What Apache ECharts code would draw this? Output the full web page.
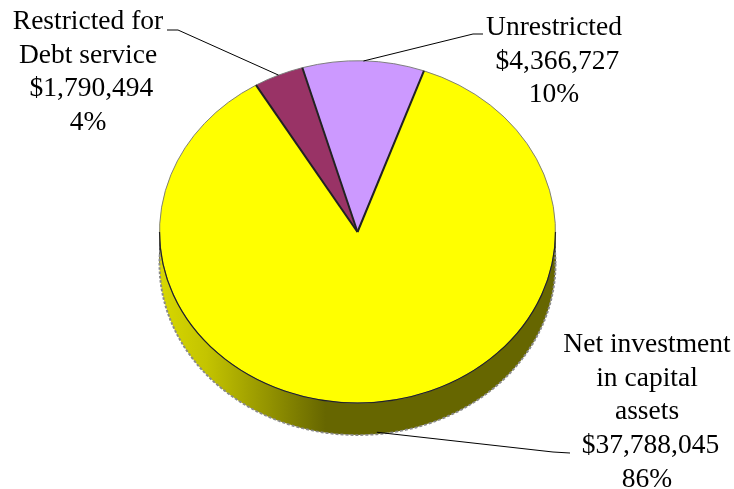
<!DOCTYPE html>
<html>
<head>
<meta charset="utf-8">
<style>
  html, body { margin: 0; padding: 0; background: #fff; }
  #chart { width: 734px; height: 489px; }
</style>
<script src="https://cdn.jsdelivr.net/npm/echarts@6/dist/echarts.min.js"></script>
</head>
<body>
<div id="chart"></div>
<script>
// clockwise from the first slice
const categories = ['Net investment\nin capital\nassets', 'Restricted for\nDebt service', 'Unrestricted'];
const amounts = [37788045, 1790494, 4366727];
// the leading space is in the original labels, it pushes the amount off centre
const amountLabels = [' $37,788,045', ' $1,790,494', ' $4,366,727'];
const percentLabels = ['86%', '4%', '10%'];

// layout of the tilted pie
const CX = 357.5, CY = 232, RX = 198, TILT = 0.864, DEPTH = 32;
const FIRST_ANGLE = 19.6; // degrees clockwise from 12 o'clock
const colors = ['#ffff00', '#993366', '#cc99ff'];
// label centre x / top y, and the elbow points of each leader line
const labelPos = [[647, 328], [88, 5], [554, 11]];
const leaderEnds = [[[553, 452], [570, 453]], [[178, 30], [167, 30]], [[473, 34], [483, 34]]];

const total = amounts.reduce((a, b) => a + b, 0);

function renderSlice(params, api) {
  const i = params.dataIndex;
  let before = 0;
  for (let k = 0; k < i; k++) before += amounts[k];
  const share = api.value(0) / total * 360;
  const from = FIRST_ANGLE + before / total * 360;
  const mid = (from + share / 2) * Math.PI / 180;
  const toCanvas = d => (d - 90) * Math.PI / 180;
  const children = [];

  if (i === 0) {
    // rim below the top face
    const rimFill = new echarts.graphic.LinearGradient(0, 0, 1, 0, [
      { offset: 0, color: '#d8d800' },
      { offset: 0.12, color: '#c4c400' },
      { offset: 0.42, color: '#666600' },
      { offset: 1, color: '#666600' }
    ]);
    children.push({
      type: 'rect',
      shape: { x: CX - RX, y: CY, width: RX * 2, height: DEPTH },
      style: { fill: rimFill, stroke: '#555', lineWidth: 1 }
    });
    children.push({
      type: 'circle',
      x: CX, y: CY + DEPTH, scaleY: TILT,
      shape: { cx: 0, cy: 0, r: RX },
      style: { fill: rimFill, stroke: '#8a8a8a', lineWidth: 2, lineDash: [3, 2] }
    });
  }

  children.push({
    type: 'sector',
    x: CX, y: CY, scaleY: TILT,
    shape: { cx: 0, cy: 0, r0: 0, r: RX, startAngle: toCanvas(from), endAngle: toCanvas(from + share), clockwise: true },
    style: { fill: colors[i], stroke: '#777', lineWidth: 1 }
  });
  if (i === 0) {
    // dark edge along the front of the top face
    children.push({
      type: 'arc',
      z2: 2,
      x: CX, y: CY, scaleY: TILT,
      shape: { cx: 0, cy: 0, r: RX, startAngle: 0, endAngle: Math.PI, clockwise: true },
      style: { fill: null, stroke: '#222', lineWidth: 1.2 }
    });
  }
  // dark radial edge where the slice starts
  children.push({
    type: 'line',
    z2: 3,
    shape: {
      x1: CX, y1: CY,
      x2: CX + RX * Math.sin(from * Math.PI / 180),
      y2: CY - RX * TILT * Math.cos(from * Math.PI / 180)
    },
    style: { stroke: '#222', lineWidth: 2 }
  });

  // leader line starts on the slice edge, at its mid angle
  const ax = CX + RX * Math.sin(mid);
  const ay = CY - RX * TILT * Math.cos(mid) + (i === 0 ? DEPTH - 2 : 0);
  children.push({
    type: 'polyline',
    z2: 10,
    shape: { points: [[ax, ay]].concat(leaderEnds[i]) },
    style: { fill: null, stroke: '#000', lineWidth: 1 }
  });

  const text = categories[i] + '\n' + amountLabels[i] + '\n' + percentLabels[i];
  children.push({
    type: 'text',
    z2: 10,
    x: labelPos[i][0], y: labelPos[i][1],
    style: {
      text: text,
      font: '27.5px "Liberation Serif", serif',
      lineHeight: 33.7,
      fill: '#000',
      align: 'center',
      verticalAlign: 'top'
    }
  });
  return { type: 'group', children: children };
}

const myChart = echarts.init(document.getElementById('chart'));
myChart.setOption({
  animation: false,
  backgroundColor: '#fff',
  series: [{
    type: 'custom',
    coordinateSystem: 'none',
    clip: false,
    renderItem: renderSlice,
    data: amounts.map(v => [v])
  }]
});
</script>
</body>
</html>
